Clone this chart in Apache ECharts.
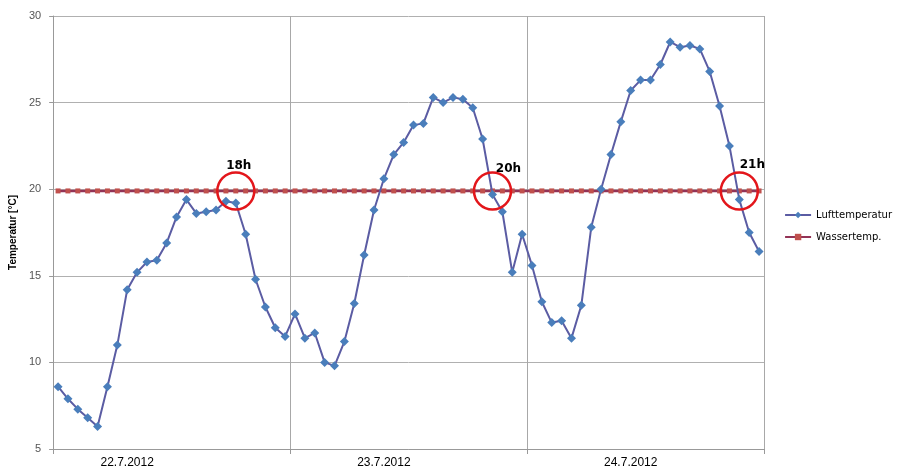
<!DOCTYPE html>
<html>
<head>
<meta charset="utf-8">
<script src="https://cdn.jsdelivr.net/npm/echarts@6/dist/echarts.min.js"></script>
<style>html,body{margin:0;padding:0;background:#fff}#c{width:899px;height:471px}</style>
</head>
<body>
<div id="c"></div>
<script>
var dayLabels = ['22.7.2012', '23.7.2012', '24.7.2012'];
var hours = ['0','1','2','3','4','5','6','7','8','9','10','11','12','13','14','15','16','17','18','19','20','21','22','23'];
var lufttemperatur = [
  8.6, 7.9, 7.3, 6.8, 6.3, 8.6, 11.0, 14.2, 15.2, 15.8, 15.9, 16.9, 18.4, 19.4, 18.6, 18.7, 18.8, 19.3, 19.2, 17.4, 14.8, 13.2, 12.0, 11.5,
  12.8, 11.4, 11.7, 10.0, 9.8, 11.2, 13.4, 16.2, 18.8, 20.6, 22.0, 22.7, 23.7, 23.8, 25.3, 25.0, 25.3, 25.2, 24.7, 22.9, 19.7, 18.7, 15.2, 17.4,
  15.6, 13.5, 12.3, 12.4, 11.4, 13.3, 17.8, 20.0, 22.0, 23.9, 25.7, 26.3, 26.3, 27.2, 28.5, 28.2, 28.3, 28.1, 26.8, 24.8, 22.5, 19.4, 17.5, 16.4
];
var wassertemp = [
  19.9, 19.9, 19.9, 19.9, 19.9, 19.9, 19.9, 19.9, 19.9, 19.9, 19.9, 19.9, 19.9, 19.9, 19.9, 19.9, 19.9, 19.9, 19.9, 19.9, 19.9, 19.9, 19.9, 19.9,
  19.9, 19.9, 19.9, 19.9, 19.9, 19.9, 19.9, 19.9, 19.9, 19.9, 19.9, 19.9, 19.9, 19.9, 19.9, 19.9, 19.9, 19.9, 19.9, 19.9, 19.9, 19.9, 19.9, 19.9,
  19.9, 19.9, 19.9, 19.9, 19.9, 19.9, 19.9, 19.9, 19.9, 19.9, 19.9, 19.9, 19.9, 19.9, 19.9, 19.9, 19.9, 19.9, 19.9, 19.9, 19.9, 19.9, 19.9, 19.9
];
var yTicks = [5, 10, 15, 20, 25, 30];
var crossIdx = [18, 44, 69];
var crossLabels = ['18h', '20h', '21h'];
var dayLabelIdx = [7, 33, 58];

var categories = [];
dayLabels.forEach(function (d) { hours.forEach(function (h) { categories.push(d + ' ' + h + ':00'); }); });

var labelOffsets = [[3, -25], [16, -22], [13, -26]];
var markData = crossIdx.map(function (idx, i) {
  return {
    coord: [idx, wassertemp[idx]],
    label: { show: true, formatter: crossLabels[i], position: 'inside', offset: labelOffsets[i],
      color: '#000', fontWeight: 'bold', fontSize: 12, fontFamily: 'DejaVu Sans' }
  };
});

var chart = echarts.init(document.getElementById('c'));
chart.setOption({
  animation: false,
  grid: { left: 51, right: 135, top: 16, bottom: 22, containLabel: false },
  legend: {
    orient: 'vertical', right: 2, top: 205, itemGap: 12, itemWidth: 26, itemHeight: 8,
    textStyle: { fontSize: 10, color: '#000', fontFamily: 'DejaVu Sans' },
    data: ['Lufttemperatur', 'Wassertemp.']
  },
  xAxis: {
    type: 'category', data: categories, boundaryGap: true,
    axisLine: { lineStyle: { color: '#999', width: 1 } },
    axisTick: { show: true, interval: function (i) { return i % 24 === 0; }, length: 5, lineStyle: { color: '#999' } },
    splitLine: { show: true, interval: function (i) { return i % 24 === 0; }, lineStyle: { color: '#a8a8a8', width: 1 } },
    axisLabel: {
      interval: function (i) { return dayLabelIdx.indexOf(i) >= 0; },
      formatter: function (v, i) { return dayLabels[Math.floor(i / 24)]; },
      color: '#000', fontSize: 12, margin: 8, fontFamily: 'Liberation Sans Narrow, Liberation Sans, sans-serif'
    }
  },
  yAxis: {
    type: 'value', min: 5, max: 30, interval: 5,
    name: 'Temperatur [°C]', nameLocation: 'middle', nameGap: 32, nameRotate: 90,
    nameTextStyle: { fontWeight: 'bold', fontSize: 10, color: '#000', fontFamily: 'Liberation Sans' },
    axisLine: { show: true, lineStyle: { color: '#999' } },
    axisTick: { show: true, length: 4, lineStyle: { color: '#999' } },
    splitLine: { show: true, lineStyle: { color: '#b0b0b0', width: 1 } },
    axisLabel: { color: '#555', fontSize: 11, margin: 12, fontFamily: 'Liberation Sans',
      formatter: function (v) { return yTicks.indexOf(v) >= 0 ? String(v) : ''; } }
  },
  series: [
    {
      name: 'Wassertemp.', type: 'line', data: wassertemp, z: 2,
      symbol: 'rect', symbolSize: 5, showAllSymbol: true,
      lineStyle: { color: '#933356', width: 2.5 },
      itemStyle: { color: '#C0504D' },
      markPoint: {
        symbol: 'circle', symbolSize: 37, silent: true,
        itemStyle: { color: 'rgba(0,0,0,0)', borderColor: '#E3161B', borderWidth: 2.5 },
        data: markData
      }
    },
    {
      name: 'Lufttemperatur', type: 'line', data: lufttemperatur, z: 3,
      symbol: 'diamond', symbolSize: 9, showAllSymbol: true,
      lineStyle: { color: '#5B5CA3', width: 2 },
      itemStyle: { color: '#4A7EBB' }
    }
  ]
});
</script>
</body>
</html>
